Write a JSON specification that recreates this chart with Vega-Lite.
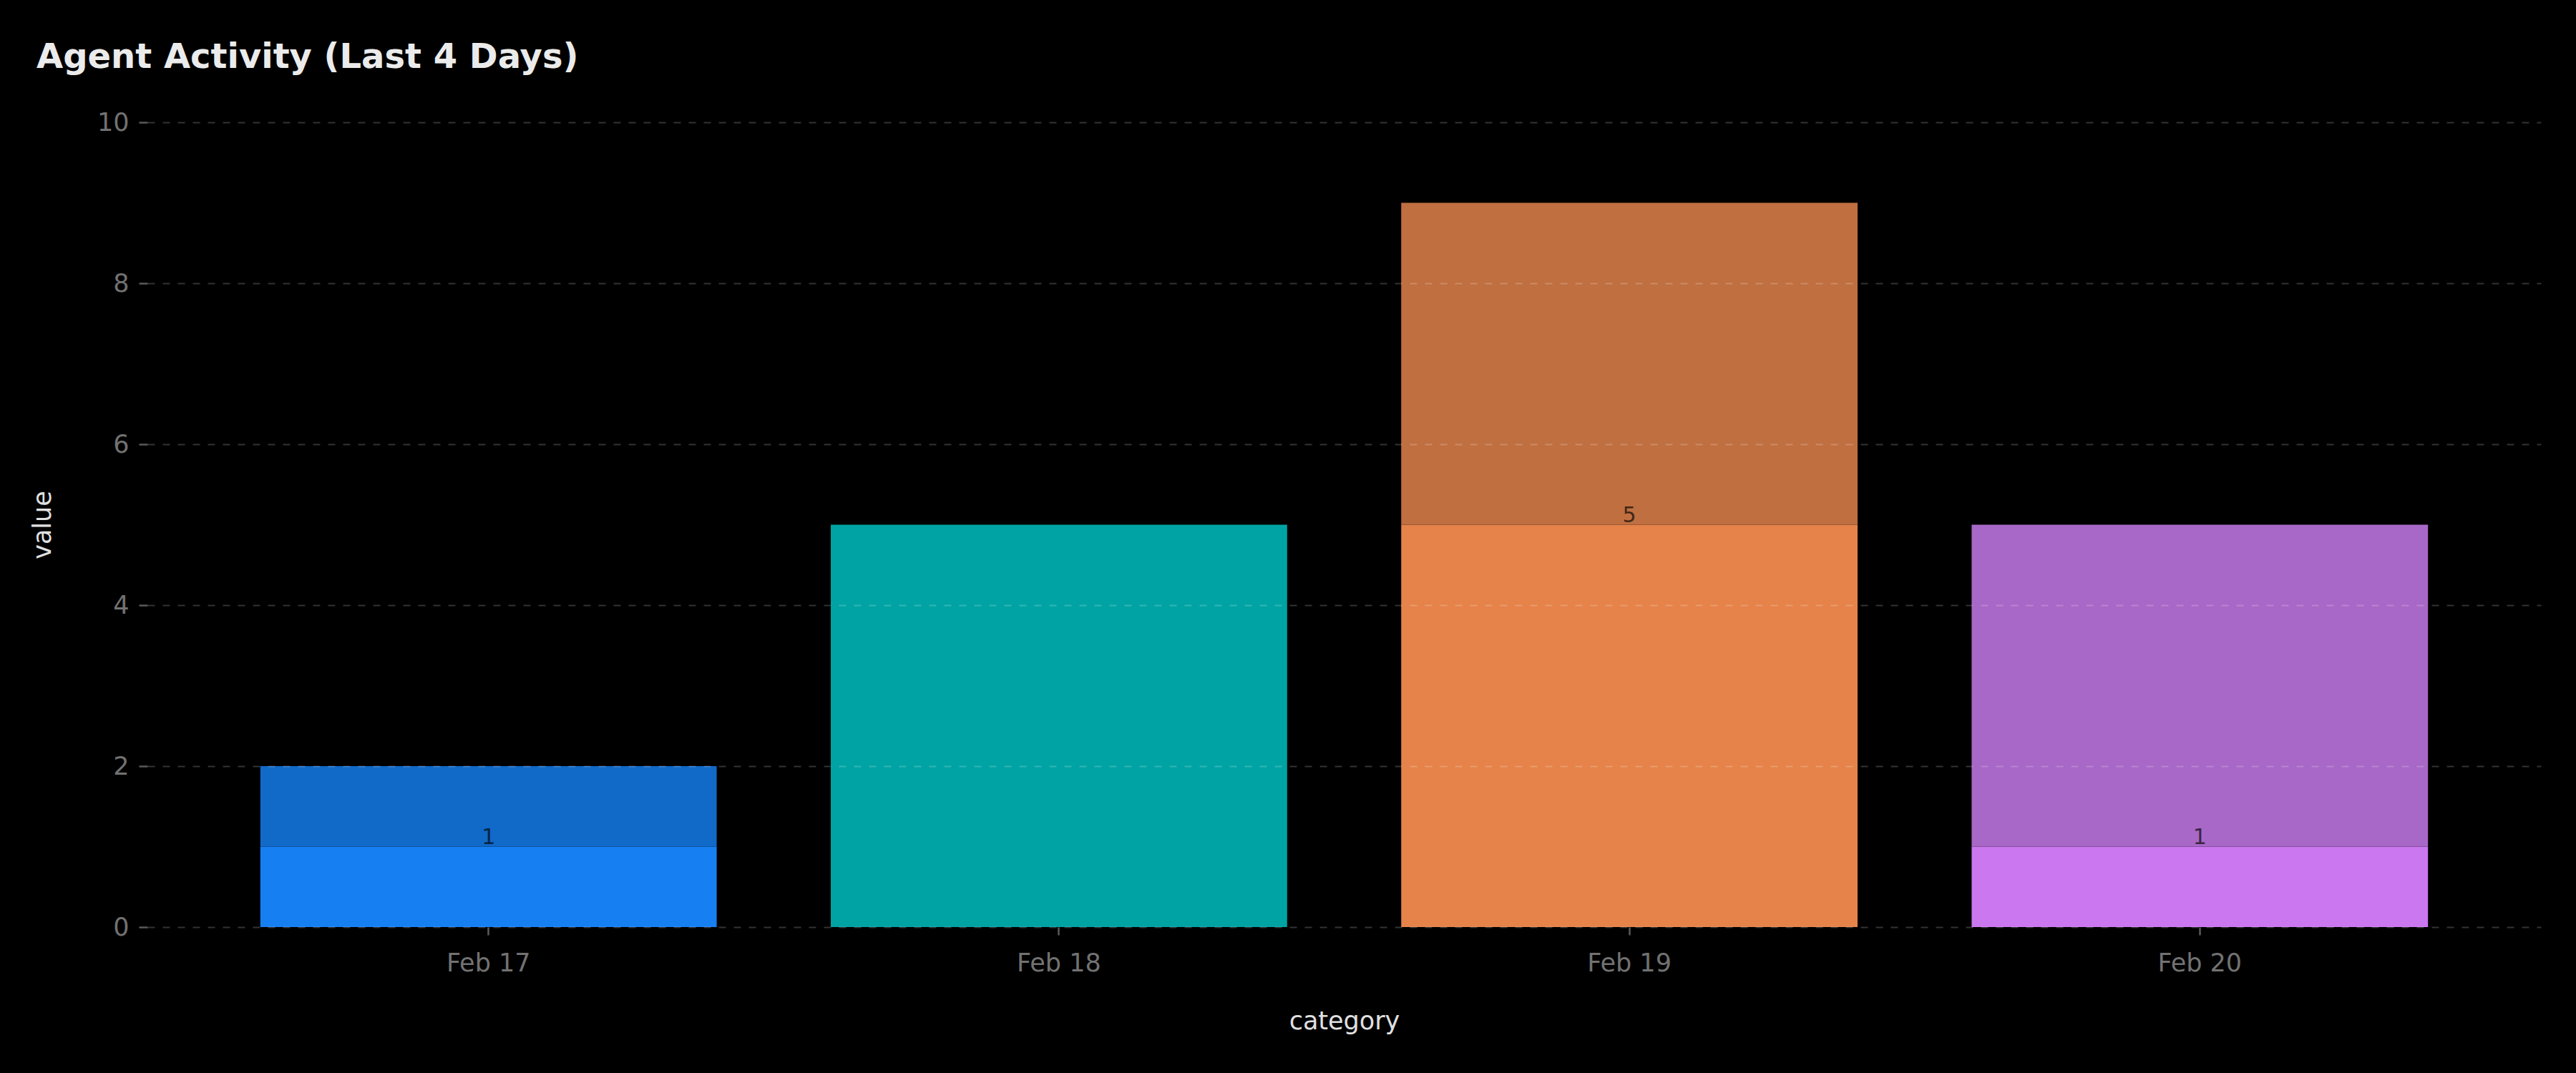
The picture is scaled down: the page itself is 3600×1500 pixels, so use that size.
{
  "$schema": "https://vega.github.io/schema/vega-lite/v6.json",
  "autosize": {"type": "none"},
  "width": 3345,
  "height": 1125,
  "padding": {"left": 206, "top": 171, "right": 49, "bottom": 204},
  "background": "#000000",
  "title": {
    "text": "Agent Activity (Last 4 Days)",
    "anchor": "start",
    "frame": "group",
    "font": "DejaVu Sans",
    "fontSize": 48,
    "fontWeight": "bold",
    "color": "#ebebeb",
    "dx": -155,
    "offset": 49
  },
  "config": {
    "view": {"stroke": null},
    "font": "DejaVu Sans",
    "axis": {"labelFont": "DejaVu Sans", "titleFont": "DejaVu Sans", "domain": false}
  },
  "data": {
    "values": [
      {"category": "Feb 17", "series": "Feb 17 base", "seg": 0, "value": 1, "label": "1"},
      {"category": "Feb 17", "series": "Feb 17 extra", "seg": 1, "value": 1, "label": null},
      {"category": "Feb 18", "series": "Feb 18 base", "seg": 0, "value": 5, "label": null},
      {"category": "Feb 19", "series": "Feb 19 base", "seg": 0, "value": 5, "label": "5"},
      {"category": "Feb 19", "series": "Feb 19 extra", "seg": 1, "value": 4, "label": null},
      {"category": "Feb 20", "series": "Feb 20 base", "seg": 0, "value": 1, "label": "1"},
      {"category": "Feb 20", "series": "Feb 20 extra", "seg": 1, "value": 4, "label": null}
    ]
  },
  "encoding": {
    "x": {
      "field": "category",
      "type": "nominal",
      "sort": ["Feb 17", "Feb 18", "Feb 19", "Feb 20"],
      "scale": {"paddingInner": 0.2, "paddingOuter": 0.198},
      "axis": {
        "title": "category",
        "labelAngle": 0,
        "labelFontSize": 35,
        "labelColor": "#727272",
        "labelPadding": 22,
        "tickSize": 11,
        "tickWidth": 2.5,
        "tickColor": "#5a5a5a",
        "titleFontSize": 35,
        "titleFontWeight": "normal",
        "titleColor": "#e0e0e0",
        "titlePadding": 46,
        "grid": false
      }
    }
  },
  "layer": [
    {
      "mark": {"type": "bar"},
      "encoding": {
        "y": {
          "field": "value",
          "type": "quantitative",
          "stack": "zero",
          "scale": {"domain": [0, 10], "nice": false},
          "axis": {
            "title": "value",
            "values": [0, 2, 4, 6, 8, 10],
            "format": "d",
            "zindex": 1,
            "labelFontSize": 35,
            "labelColor": "#727272",
            "labelPadding": 14,
            "tickSize": 12,
            "tickWidth": 2.5,
            "tickColor": "#5a5a5a",
            "grid": true,
            "gridColor": "#ffffff",
            "gridOpacity": 0.2,
            "gridWidth": 2,
            "gridDash": [10, 11],
            "titleFontSize": 35,
            "titleFontWeight": "normal",
            "titleColor": "#e0e0e0",
            "titlePadding": 58
          }
        },
        "color": {
          "field": "series",
          "type": "nominal",
          "legend": null,
          "scale": {
            "domain": ["Feb 17 base", "Feb 17 extra", "Feb 18 base", "Feb 19 base", "Feb 19 extra", "Feb 20 base", "Feb 20 extra"],
            "range": ["#1680f3", "#1169c8", "#00a3a3", "#e5834a", "#c06f40", "#cb77f0", "#a868c7"]
          }
        },
        "order": {"field": "seg", "type": "quantitative"}
      }
    },
    {
      "transform": [{"filter": "datum.label != null"}],
      "mark": {"type": "text", "baseline": "alphabetic", "align": "center", "dy": -4, "fontSize": 30, "color": "#000000", "opacity": 0.65},
      "encoding": {
        "y": {"field": "value", "type": "quantitative", "stack": null},
        "text": {"field": "label", "type": "nominal"}
      }
    }
  ]
}
